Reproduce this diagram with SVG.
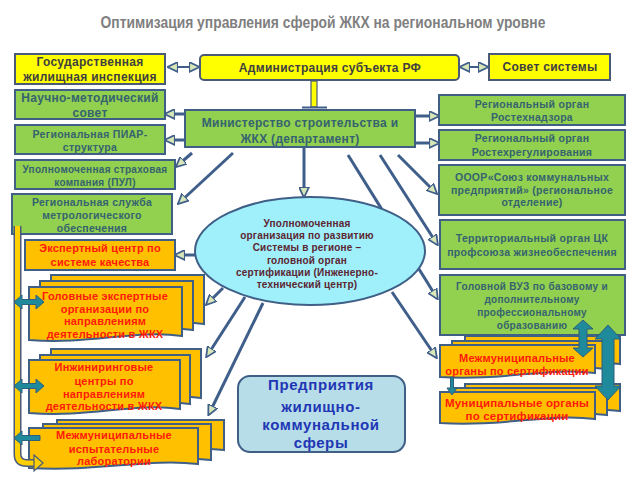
<svg xmlns="http://www.w3.org/2000/svg" width="640" height="480" viewBox="0 0 640 480">
<defs>
<style>
.t{font-family:"Liberation Sans",Arial,sans-serif;font-weight:bold;text-anchor:middle}
.g{fill:#92d050;stroke:#3f5f86;stroke-width:2}
.y{fill:#ffff00;stroke:#4a5a78;stroke-width:2}
.o{fill:#ffc000;stroke:#3f5f86;stroke-width:2}
.gt{fill:#35636f;font-size:10.5px;letter-spacing:0.3px}
.gt12{fill:#35636f;font-size:12px;letter-spacing:0.3px}
.rt{fill:#ff1a0a;font-size:11px;letter-spacing:0.2px}
.et{fill:#5c2632;font-size:10px;letter-spacing:0.2px}
.c{stroke:#3f5f8a;stroke-width:3;fill:none;marker-end:url(#ah)}
.d{stroke:#3f5f8a;stroke-width:2;fill:none;marker-start:url(#ah);marker-end:url(#ah)}
.tl{fill:#1f8a9c;stroke:#2f5f7a;stroke-width:1}
</style>
<marker id="ah" viewBox="0 0 10 10" refX="8" refY="5" markerWidth="11" markerHeight="11" markerUnits="userSpaceOnUse" orient="auto-start-reverse">
<path d="M0,0.5 L9.5,5 L0,9.5 Z" fill="#d9e6b8" stroke="#3f5f8a" stroke-width="1.6"/>
</marker>
</defs>
<rect width="640" height="480" fill="#ffffff"/>
<text transform="translate(323,28) scale(0.815,1)" x="0" y="0" font-family="'Liberation Sans',Arial,sans-serif" font-weight="bold" font-size="17" fill="#7f7f7f" text-anchor="middle">Оптимизация управления сферой  ЖКХ  на региональном уровне</text>

<g id="gos-inspection"><rect class="y" x="15" y="54" width="150" height="30"/>
<text class="t gt12" style="fill:#404040"><tspan x="90" y="66">Государственная</tspan><tspan x="90" y="81">жилищная инспекция</tspan></text></g>
<g id="nauchno"><rect class="g" x="15" y="90" width="150" height="29"/>
<text class="t gt12"><tspan x="90" y="102">Научно-методический</tspan><tspan x="90" y="117">совет</tspan></text></g>
<g id="piar"><rect class="g" x="15" y="125" width="150" height="29"/>
<text class="t gt"><tspan x="90" y="138">Региональная ПИАР-</tspan><tspan x="90" y="151">структура</tspan></text></g>
<g id="strakh"><rect class="g" x="15" y="160" width="160" height="29"/>
<text class="t gt" style="font-size:10px"><tspan x="95" y="173">Уполномоченная страховая</tspan><tspan x="95" y="186">компания  (ПУЛ)</tspan></text></g>
<g id="metrolog"><rect class="g" x="12" y="194" width="160" height="40"/>
<text class="t gt"><tspan x="92" y="206">Региональная служба</tspan><tspan x="92" y="219">метрологического</tspan><tspan x="92" y="232">обеспечения</tspan></text></g>

<g id="admin"><rect class="y" x="200" y="55" width="259" height="25" rx="4"/>
<text class="t gt12" style="fill:#404040" x="330" y="72">Администрация субъекта РФ</text></g>
<g id="sovet"><rect class="y" x="489" y="54" width="121" height="26"/>
<text class="t gt12" style="fill:#404040" x="550" y="71">Совет системы</text></g>
<g id="ministry"><rect class="g" x="185" y="110" width="230" height="37"/>
<text class="t gt12"><tspan x="300" y="127">Министерство строительства и</tspan><tspan x="300" y="143">ЖКХ (департамент)</tspan></text></g>

<g id="rostekhnadzor"><rect class="g" x="439" y="95" width="186" height="30"/>
<text class="t gt"><tspan x="532" y="108">Региональный орган</tspan><tspan x="532" y="121">Ростехнадзора</tspan></text></g>
<g id="rostekhreg"><rect class="g" x="439" y="130" width="186" height="30"/>
<text class="t gt"><tspan x="532" y="142">Региональный орган</tspan><tspan x="532" y="156">Ростехрегулирования</tspan></text></g>
<g id="soyuz"><rect class="g" x="439" y="165" width="186" height="50"/>
<text class="t gt"><tspan x="532" y="181">ОООР«Союз коммунальных</tspan><tspan x="532" y="194">предприятий» (региональное</tspan><tspan x="532" y="206">отделение)</tspan></text></g>
<g id="profsoyuz"><rect class="g" x="440" y="220" width="185" height="49"/>
<text class="t gt"><tspan x="532" y="242">Территориальный орган ЦК</tspan><tspan x="532" y="256">профсоюза жизнеобеспечения</tspan></text></g>
<g id="vuz"><rect class="g" x="440" y="275" width="185" height="60"/>
<text class="t gt" style="font-size:10px"><tspan x="532" y="290">Головной ВУЗ по базовому и</tspan><tspan x="532" y="303">дополнительному</tspan><tspan x="532" y="316">профессиональному</tspan><tspan x="532" y="329">образованию</tspan></text></g>

<g id="center-org"><ellipse cx="310" cy="251" rx="115" ry="54" fill="#9ff0fb" stroke="#3f5f86" stroke-width="2"/>
<text class="t et"><tspan x="307" y="227">Уполномоченная</tspan><tspan x="307" y="239">организация по развитию</tspan><tspan x="307" y="251">Системы в регионе –</tspan><tspan x="307" y="264">головной орган</tspan><tspan x="307" y="276">сертификации (Инженерно-</tspan><tspan x="307" y="288">технический центр)</tspan></text></g>

<g id="expert-center"><rect class="o" x="25" y="240" width="150" height="30"/>
<text class="t rt"><tspan x="100" y="252">Экспертный центр по</tspan><tspan x="100" y="266">системе качества</tspan></text></g>
<g id="expert-orgs">
<path class="o" d="M51,275 h153 v49 c-46,-7 -92,9 -153,4 z"/>
<path class="o" d="M40,281 h153 v49 c-46,-7 -92,9 -153,4 z"/>
<path class="o" d="M29,287 h153 v49 c-46,-7 -92,9 -153,4 z"/>
<text class="t rt"><tspan x="105" y="300">Головные экспертные</tspan><tspan x="105" y="313">организации по</tspan><tspan x="105" y="325">направлениям</tspan><tspan x="105" y="338">деятельности в ЖКХ</tspan></text></g>
<g id="engineering">
<path class="o" d="M51,349 h150 v49 c-45,-7 -90,9 -150,4 z"/>
<path class="o" d="M40,355 h150 v49 c-45,-7 -90,9 -150,4 z"/>
<path class="o" d="M29,360 h151 v49 c-45,-7 -90,9 -151,4 z"/>
<text class="t rt"><tspan x="104" y="371">Инжиниринговые</tspan><tspan x="104" y="385">центры по</tspan><tspan x="104" y="398">направлениям</tspan><tspan x="104" y="410">деятельности в ЖКХ</tspan></text></g>
<g id="labs">
<path class="o" d="M57,420 h167 v30 c-50,-6 -100,8 -167,4 z"/>
<path class="o" d="M43,424 h168 v36 c-50,-6 -100,8 -168,4 z"/>
<path class="o" d="M29,428 h169 v36 c-50,-6 -100,8 -169,4 z"/>
<text class="t rt"><tspan x="114" y="439">Межмуниципальные</tspan><tspan x="114" y="453">испытательные</tspan><tspan x="114" y="465">лаборатории</tspan></text></g>

<g id="mezhmun-organs">
<path class="o" d="M465,336 h155 v28 c-46,-6 -93,8 -155,4 z"/>
<path class="o" d="M452,341 h155 v28 c-46,-6 -93,8 -155,4 z"/>
<path class="o" d="M440,345 h155 v28 c-46,-6 -93,8 -155,4 z"/>
<text class="t rt"><tspan x="517" y="362">Межмуниципальные</tspan><tspan x="517" y="375">органы по сертификации</tspan></text></g>
<g id="mun-organs">
<path class="o" d="M465,384 h155 v27 c-46,-6 -93,8 -155,4 z"/>
<path class="o" d="M452,388 h155 v27 c-46,-6 -93,8 -155,4 z"/>
<path class="o" d="M440,392 h155 v27 c-46,-6 -93,8 -155,4 z"/>
<text class="t rt" style="font-size:11.5px"><tspan x="517" y="407">Муниципальные органы</tspan><tspan x="517" y="420">по сертификации</tspan></text></g>

<g id="enterprises"><rect x="238" y="376" width="167" height="76" rx="12" fill="#b6dde8" stroke="#3f5f86" stroke-width="2"/>
<text class="t" style="fill:#2236b5;font-size:15px;letter-spacing:0.6px"><tspan x="321" y="390">Предприятия</tspan><tspan x="321" y="412">жилищно-</tspan><tspan x="321" y="430">коммунальной</tspan><tspan x="321" y="448">сферы</tspan></text></g>

<g id="connectors">
<line class="d" x1="169" y1="67" x2="198" y2="67"/>
<line class="d" x1="461" y1="67" x2="487" y2="67"/>
<rect x="311" y="81" width="6" height="26" fill="#ffff00" stroke="#4a5a78" stroke-width="1.2"/>
<line x1="302" y1="107.5" x2="327" y2="107.5" stroke="#3f5f8a" stroke-width="2"/>
<line class="c" x1="185" y1="114" x2="166" y2="114"/>
<line class="c" x1="185" y1="140" x2="166" y2="140"/>
<line class="c" x1="415" y1="116" x2="438" y2="116"/>
<line class="c" x1="415" y1="143" x2="438" y2="143"/>
<line class="c" x1="192" y1="153" x2="177" y2="166"/>
<line class="c" x1="233" y1="153" x2="179" y2="203"/>
<line class="c" x1="304" y1="147" x2="304" y2="196"/>
<line class="c" x1="398" y1="155" x2="436" y2="193"/>
<line class="c" x1="380" y1="155" x2="437" y2="244"/>
<line x1="348" y1="155" x2="381.4" y2="208.6" stroke="#3f5f8a" stroke-width="3"/>
<line class="c" x1="418.8" y1="268.7" x2="437" y2="298"/>
<line class="c" x1="392" y1="292" x2="436" y2="357"/>
<line class="c" x1="196" y1="255" x2="176" y2="255"/>
<line class="c" x1="223" y1="288" x2="207" y2="304"/>
<line class="c" x1="245" y1="297" x2="207" y2="356"/>
<line class="c" x1="263" y1="303" x2="209" y2="414"/>
<path d="M17.5,226 V454 Q17.5,463 27,463 H34" fill="none" stroke="#4a5a78" stroke-width="8"/>
<path d="M17.5,226 V454 Q17.5,463 27,463 H35" fill="none" stroke="#ffd000" stroke-width="5"/>
<polygon points="34,455 43,463 34,471" fill="#ffd000" stroke="#4a5a78" stroke-width="1.2"/>
<polygon class="tl" points="14,302 22,295 22,299.5 36,299.5 36,295 44,302 36,309 36,304.5 22,304.5 22,309"/>
<polygon class="tl" points="14,386 22,379 22,383.5 36,383.5 36,379 44,386 36,393 36,388.5 22,388.5 22,393"/>
<polygon class="tl" points="14,438 22,431 22,435.5 40,435.5 40,440.5 22,440.5 22,445"/>
<polygon class="tl" points="583,320 593,329 587,329 587,348 593,348 583,357 573,348 579,348 579,329 573,329"/>
<polygon class="tl" points="608,325 621,339 614,339 614,386 621,386 608,400 595,386 602,386 602,339 595,339"/>
<polygon class="tl" points="450.5,377 453.5,377 453.5,388 457,388 452,395 447,388 450.5,388"/>
</g>
</svg>
